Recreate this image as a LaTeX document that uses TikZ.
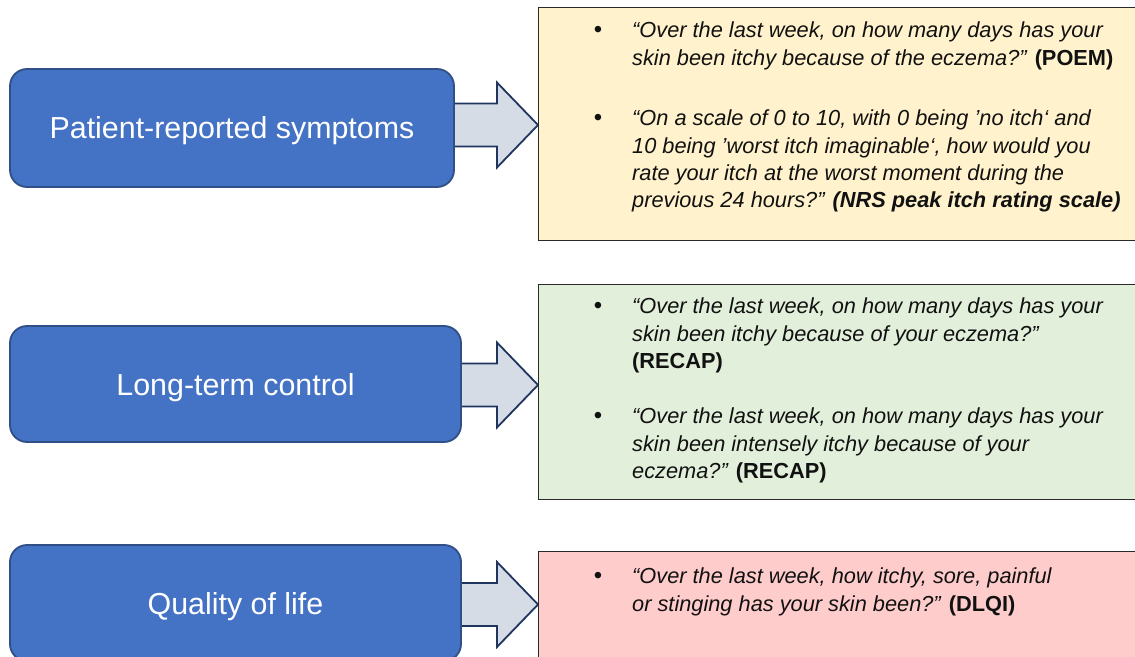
\documentclass[tikz,border=0pt]{standalone}
\usepackage{fontspec}
\setmainfont{Liberation Sans}
\usetikzlibrary{calc,backgrounds}

\definecolor{topicfill}{HTML}{4472C4}
\definecolor{topicline}{HTML}{2F4F86}
\definecolor{arrowfill}{HTML}{D6DCE5}
\definecolor{arrowline}{HTML}{1F3560}
\definecolor{panelyellow}{HTML}{FFF2CC}
\definecolor{panelgreen}{HTML}{E2EFDA}
\definecolor{panelpink}{HTML}{FFCCCC}
\definecolor{panelline}{HTML}{2A2A2A}
\definecolor{ink}{HTML}{111111}

\tikzset{
  topic/.style={draw=topicline, fill=topicfill, line width=1.8bp,
    rounded corners=17bp, text=white, inner sep=0pt,
    text height=22bp, text depth=0bp,
    font=\fontsize{30.5}{36}\selectfont},
  panel/.style={draw=panelline, line width=1.4bp, anchor=north west, inner sep=0pt},
  blockarrow/.style={draw=arrowline, fill=arrowfill, line width=1.8bp, line join=miter},
  qtext/.style={inner sep=0pt, align=left, anchor=north west, text=ink,
    font=\fontsize{21.85}{27.5}\selectfont\itshape},
  dot/.style={inner sep=0pt, anchor=base, text=ink,
    font=\fontsize{24}{27.5}\selectfont}
}

\begin{document}
\begin{tikzpicture}[x=1bp, y=-1bp]
\useasboundingbox (0,0) rectangle (1135,657);

% left-hand topic boxes
\node[topic, minimum width=444bp, minimum height=118bp] (t1) at (232,128) {Patient-reported symptoms};
\node[topic, minimum width=451bp, minimum height=116bp] (t2) at (235.5,384) {Long-term control};
\node[topic, minimum width=451bp, minimum height=116bp] (t3) at (235.5,603) {Quality of life};

% right-hand question panels
\node[panel, fill=panelyellow, minimum width=602bp, minimum height=233bp] (q1) at (538,7) {};
\node[panel, fill=panelgreen,  minimum width=602bp, minimum height=215bp] (q2) at (538,284) {};
\node[panel, fill=panelpink,   minimum width=602bp, minimum height=120bp] (q3) at (538,551) {};

% block arrows from each topic to its panel (\d nudges the arrow's axis)
\begin{scope}[on background layer]
\foreach \t/\q/\d in {t1/q1/-3, t2/q2/1, t3/q3/1.5}{
  \coordinate (s) at ($(\t.east)+(-6,\d)$);
  \coordinate (tip) at ($(\t.east -| \q.west)+(0,\d)$);
  \draw[blockarrow]
    ($(s)+(0,-21.5)$) --
    ($(tip)+(-41,-21.5)$) --
    ($(tip)+(-41,-42.5)$) --
    (tip) --
    ($(tip)+(-41,42.5)$) --
    ($(tip)+(-41,21.5)$) --
    ($(s)+(0,21.5)$) -- cycle;
}
\end{scope}

% questions: bullets and text (text top = baseline - strut height)
\node[dot] (b1) at (598,37.5) {•};
\node[qtext] (y1) at (632,18.25) {\strut“Over the last week, on how many days has your\\
skin been itchy because of the eczema?” \textbf{\upshape(POEM)}};

\node[dot] (b2) at (598,125.5) {•};
\node[qtext] (y2) at (632,106.25) {\strut“On a scale of 0 to 10, with 0 being ’no itch‘ and\\
10 being ’worst itch imaginable‘, how would you\\
rate your itch at the worst moment during the\\
previous 24 hours?” \textbf{(NRS peak itch rating scale)}};

\node[dot] (b3) at (598,313.5) {•};
\node[qtext] (g1) at (632,294.25) {\strut“Over the last week, on how many days has your\\
skin been itchy because of your eczema?”\\
\textbf{\upshape(RECAP)}};

\node[dot] (b4) at (598,423.5) {•};
\node[qtext] (g2) at (632,404.25) {\strut“Over the last week, on how many days has your\\
skin been intensely itchy because of your\\
eczema?” \textbf{\upshape(RECAP)}};

\node[dot] (b5) at (598,583.5) {•};
\node[qtext] (p1) at (632,564.25) {\strut“Over the last week, how itchy, sore, painful\\
or stinging has your skin been?” \textbf{\upshape(DLQI)}};
\end{tikzpicture}
\end{document}
